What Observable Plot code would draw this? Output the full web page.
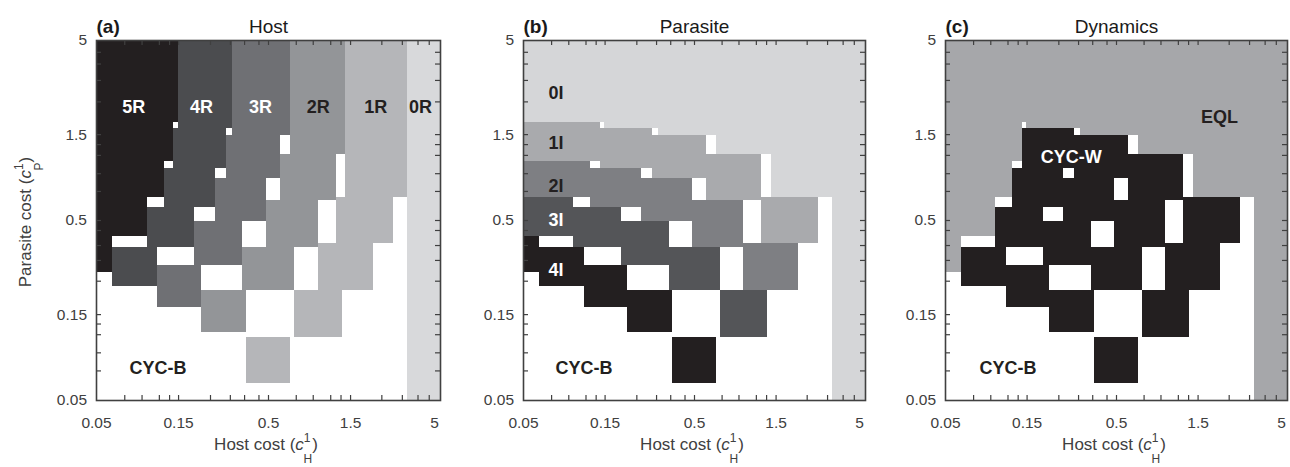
<!DOCTYPE html>
<html><head><meta charset="utf-8">
<script src="https://cdn.jsdelivr.net/npm/d3@7"></script>
<script src="https://cdn.jsdelivr.net/npm/@observablehq/plot@0.6"></script>
<style>
body{margin:0;background:#fff;}
#fig{position:relative;width:1290px;height:467px;font-family:"Liberation Sans",Arial,Helvetica,sans-serif;}
#fig svg{position:absolute;top:0;overflow:visible;}
</style></head><body><div id="fig"></div>
<script>
// ---------- data ----------
const costTicks = [0.05, 0.15, 0.5, 1.5, 5];
const minorTicks = [0.073, 0.092, 0.116, 0.133, 0.23, 0.30, 0.363, 0.44, 0.725, 0.91, 1.15, 1.32, 2.28, 3.0, 3.7, 4.3];

// host-cost boundaries between columns (5R|4R, 4R|3R, 3R|2R, 2R|1R, 1R|0R), one value per parasite row (top -> bottom)
const hostBounds = [
  [0.149, 0.141, 0.124, 0.0986, 0.0622],
  [0.308, 0.284, 0.246, 0.186, 0.113],
  [0.671, 0.587, 0.487, 0.355, 0.204],
  [1.41, 1.24, 0.973, 0.711, 0.371],
  [3.20, 2.65, 2.03, 1.34, 0.671]
];
// parasite-cost lower edges of rows 0..4, one list per host column (5R .. 1R)
const parasiteBounds = [
  [1.76, 1.06, 0.674, 0.409, 0.256],
  [1.62, 0.976, 0.588, 0.353, 0.216],
  [1.48, 0.853, 0.494, 0.281, 0.164],
  [1.17, 0.646, 0.353, 0.204, 0.119],
  [0.674, 0.371, 0.204, 0.112, 0.0619]
];

// outcome per cell: rows = parasite rows (top->bottom), cols = host columns
const hostGrid = [
  ["5R","4R","3R","2R","1R"],
  ["5R","4R","3R","2R","1R"],
  ["5R","4R","3R","2R","1R"],
  ["5R","4R","3R","2R","1R"],
  ["5R","4R","3R","2R","1R"]
];
const parasiteGrid = [
  ["0I","0I","0I","0I","0I"],
  ["1I","1I","1I","1I","1I"],
  ["2I","2I","2I","2I","2I"],
  ["3I","3I","3I","3I","3I"],
  ["4I","4I","4I","4I","4I"]
];
const dynamicsGrid = [
  ["EQL","EQL","EQL","EQL","EQL"],
  ["EQL","CYC-W","CYC-W","CYC-W","CYC-W"],
  ["EQL","CYC-W","CYC-W","CYC-W","CYC-W"],
  ["EQL","CYC-W","CYC-W","CYC-W","CYC-W"],
  ["EQL","CYC-W","CYC-W","CYC-W","CYC-W"]
];
const stripeHost = "0R", stripeParasite = "0I", stripeDynamics = "EQL";

const hostCats = ["5R","4R","3R","2R","1R","0R"];
const hostColors = ["#231f20","#4b4c4f","#6f7074","#939598","#b5b6b9","#d8d9db"];
const parasiteCats = ["0I","1I","2I","3I","4I"];
const parasiteColors = ["#d5d6d8","#a9aaad","#7e7f83","#545558","#231f20"];
const dynamicsCats = ["EQL","CYC-W"];
const dynamicsColors = ["#a6a7aa","#231f20"];

const hostLabels = [
  {text:"5R", x:0.0824, y:2.14}, {text:"4R", x:0.204, y:2.14}, {text:"3R", x:0.449, y:2.14},
  {text:"2R", x:0.973, y:2.14}, {text:"1R", x:2.10, y:2.14}, {text:"0R", x:3.83, y:2.14},
  {text:"CYC-B", x:0.114, y:0.0752}
];
const parasiteLabels = [
  {text:"0I", x:0.0775, y:2.54}, {text:"1I", x:0.0775, y:1.35}, {text:"2I", x:0.0775, y:0.78},
  {text:"3I", x:0.0775, y:0.50}, {text:"4I", x:0.0775, y:0.264},
  {text:"CYC-B", x:0.113, y:0.0752}
];
const dynamicsLabels = [
  {text:"EQL", x:2.00, y:1.87}, {text:"CYC-W", x:0.272, y:1.12}, {text:"CYC-B", x:0.116, y:0.0752}
];

// ---------- drawing ----------
const FONT = '"Liberation Sans",Arial,Helvetica,sans-serif';
const AX = "#404040";

function cellsFor(grid, stripeCat) {
  const out = [];
  for (let m = 0; m < 5; m++) for (let k = 0; k < 5; k++) {
    out.push({
      x1: k === 0 ? costTicks[0] : hostBounds[k-1][m],
      x2: hostBounds[k][m],
      y1: parasiteBounds[k][m],
      y2: m === 0 ? costTicks[4] : parasiteBounds[k][m-1],
      cat: grid[m][k]
    });
  }
  out.push({x1: hostBounds[4][0], x2: costTicks[4], y1: costTicks[0], y2: costTicks[4], cat: stripeCat});
  return out;
}

function panel({left, width, ml, mr, tag, title, grid, stripe, cats, colors, labels, yTitle}) {
  const H = 467, mt = 40, mb = 67;
  const pw = width - ml - mr, ph = H - mt - mb;
  const colorOf = new Map(cats.map((c, i) => [c, colors[i]]));
  const isDark = c => colorOf.has(c) && d3.hsl(colorOf.get(c)).l < 0.45;
  const inner = costTicks.slice(1, 4).concat(minorTicks);
  const last = costTicks[costTicks.length - 1];
  const svg = Plot.plot({
    width, height: H, marginLeft: ml, marginRight: mr, marginTop: mt, marginBottom: mb,
    style: {fontFamily: FONT, background: "white", overflow: "visible"},
    x: {type: "log", domain: [costTicks[0], last], axis: null},
    y: {type: "log", domain: [costTicks[0], last], axis: null},
    color: {type: "ordinal", domain: cats, range: colors},
    marks: [
      Plot.rect(cellsFor(grid, stripe), {x1: "x1", x2: "x2", y1: "y1", y2: "y2", fill: "cat", shapeRendering: "crispEdges"}),
      Plot.text(labels.filter(d => isDark(d.text)), {x: "x", y: "y", text: "text", fill: "white", fontWeight: "bold", fontSize: 18}),
      Plot.text(labels.filter(d => !isDark(d.text)), {x: "x", y: "y", text: "text", fill: "#231f20", fontWeight: "bold", fontSize: 18}),
      // inward ticks on all four sides
      Plot.tickX(inner, {x: d => d, insetTop: ph - 5, stroke: AX, strokeWidth: 1.2}),
      Plot.tickX(inner, {x: d => d, insetBottom: ph - 5, stroke: AX, strokeWidth: 1.2}),
      Plot.tickY(inner, {y: d => d, insetRight: pw - 5, stroke: AX, strokeWidth: 1.2}),
      Plot.tickY(inner, {y: d => d, insetLeft: pw - 5, stroke: AX, strokeWidth: 1.2}),
      Plot.frame({stroke: AX, strokeWidth: 1.6}),
      // tick labels
      Plot.text(costTicks.slice(0, -1), {x: d => d, frameAnchor: "bottom", lineAnchor: "top", dy: 16, text: d => String(d), fontSize: 15.5, fill: AX}),
      Plot.text([last], {x: d => d, frameAnchor: "bottom", lineAnchor: "top", dy: 16, dx: -6, text: d => String(d), fontSize: 15.5, fill: AX}),
      Plot.text(costTicks, {y: d => d, frameAnchor: "left", textAnchor: "end", lineAnchor: "middle", dx: -9.5, text: d => String(d), fontSize: 15.5, fill: AX}),
      Plot.text([tag], {frameAnchor: "top-left", textAnchor: "start", lineAnchor: "middle", dy: -14, fontWeight: "bold", fontSize: 19, fill: "#1a1a1a"}),
      Plot.text([title], {frameAnchor: "top", lineAnchor: "middle", dy: -14, fontSize: 19, fill: "#1a1a1a"})
    ]
  });
  svg.style.left = left + "px";
  const s = d3.select(svg);
  // x-axis title with stacked sub/superscript
  const tx = s.append("text").attr("x", ml + pw / 2 - 2).attr("y", 450)
    .attr("text-anchor", "middle").attr("font-size", 17).attr("fill", AX).attr("font-family", FONT);
  tx.append("tspan").text("Host cost (");
  tx.append("tspan").attr("font-style", "italic").text("c");
  tx.append("tspan").attr("font-size", 12).attr("dy", -8).text("1");
  tx.append("tspan").attr("font-size", 12).attr("dx", -7).attr("dy", 21).text("H");
  tx.append("tspan").attr("dy", -13).text(")");
  if (yTitle) {
    const ty = s.append("text").attr("transform", `translate(31,${mt + ph / 2 + 2}) rotate(-90)`)
      .attr("text-anchor", "middle").attr("font-size", 17).attr("fill", AX).attr("font-family", FONT);
    ty.append("tspan").text("Parasite cost (");
    ty.append("tspan").attr("font-style", "italic").text("c");
    ty.append("tspan").attr("font-size", 12).attr("dy", -8).text("1");
    ty.append("tspan").attr("font-size", 12).attr("dx", -7).attr("dy", 20).text("P");
    ty.append("tspan").attr("dy", -12).text(")");
  }
  document.getElementById("fig").appendChild(svg);
}

panel({left: 0, width: 460, ml: 96, mr: 20, tag: "(a)", title: "Host", grid: hostGrid, stripe: stripeHost,
       cats: hostCats, colors: hostColors, labels: hostLabels, yTitle: true});
panel({left: 460, width: 420, ml: 63, mr: 15, tag: "(b)", title: "Parasite", grid: parasiteGrid, stripe: stripeParasite,
       cats: parasiteCats, colors: parasiteColors, labels: parasiteLabels, yTitle: false});
panel({left: 880, width: 410, ml: 65, mr: 3, tag: "(c)", title: "Dynamics", grid: dynamicsGrid, stripe: stripeDynamics,
       cats: dynamicsCats, colors: dynamicsColors, labels: dynamicsLabels, yTitle: false});
</script></body></html>
